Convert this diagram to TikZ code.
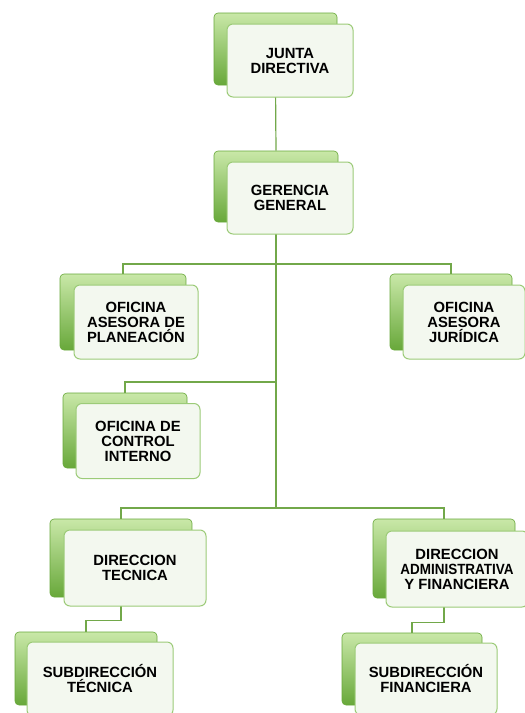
\documentclass[tikz,border=0pt]{standalone}
\usepackage{fontspec}
\setmainfont{Liberation Sans}
\usepackage{xcolor}
\definecolor{verdeclaro}{HTML}{C9E8A8}
\definecolor{verdemedio}{HTML}{8CC653}
\definecolor{verdeoscuro}{HTML}{68A83A}
\definecolor{borde}{HTML}{9CCB78}
\definecolor{linea}{HTML}{72A84A}
\definecolor{relleno}{HTML}{F3F8EF}

\begin{document}
\begin{tikzpicture}[x=1pt,y=-1pt,
	fondo/.style={rounded corners=4pt, draw=verdeoscuro, line width=0.6pt, top color=verdeclaro, middle color=verdemedio, bottom color=verdeoscuro, inner sep=0pt},
	caja/.style={rounded corners=6pt, draw=borde, line width=1pt, fill=relleno, align=center, inner sep=0pt, font=\bfseries\fontsize{14.8}{15}\selectfont},
	conector/.style={draw=linea, line width=1.2pt}]
	\useasboundingbox[fill=white] (0,0) rectangle (525,713);
	\node[fondo, minimum width=123, minimum height=72] (jb) at (275.5,49) {};
	\node[fondo, minimum width=124, minimum height=71] (gb) at (276,186.5) {};
	\node[fondo, minimum width=126, minimum height=76] (oapb) at (123,312) {};
	\node[fondo, minimum width=122, minimum height=76] (ojb) at (451,312) {};
	\node[fondo, minimum width=124, minimum height=75] (ocib) at (125,430.5) {};
	\node[fondo, minimum width=142, minimum height=78] (dtb) at (121,558) {};
	\node[fondo, minimum width=142, minimum height=79] (dab) at (444,558.5) {};
	\node[fondo, minimum width=142, minimum height=73] (stb) at (86,668.5) {};
	\node[fondo, minimum width=140, minimum height=72] (sfb) at (412,669) {};
	\coordinate (bus1) at (276,264);
	\coordinate (bus2) at (276,382);
	\coordinate (bus3) at (276,508);
	\draw[conector] (jb.south) -- (gb.north);
	\draw[conector] (gb.south) -- (bus3);
	\draw[conector] (oapb.north) |- (bus1) -| (ojb.north);
	\draw[conector] (ocib.north) |- (bus2);
	\draw[conector] (dtb.north) |- (bus3) -| (dab.north);
	\draw[conector] (dtb.south) -- ++(0,23) -| (stb.north);
	\draw[conector] (dab.south) -- ++(0,24) -| (sfb.north);
	\node[caja, minimum width=126, minimum height=73] (junta) at (290,60.5) {JUNTA\\DIRECTIVA};
	\node[caja, minimum width=126, minimum height=72] (gerencia) at (290,198) {GERENCIA\\GENERAL};
	\node[caja, minimum width=124, minimum height=74] (planeacion) at (136,322) {OFICINA\\ASESORA DE\\PLANEACIÓN};
	\node[caja, minimum width=122, minimum height=74] (juridica) at (464,322) {OFICINA\\ASESORA\\JURÍDICA};
	\node[caja, minimum width=124, minimum height=75] (control) at (138,441) {OFICINA DE\\CONTROL\\INTERNO};
	\node[caja, minimum width=142, minimum height=76] (tecnica) at (135,568) {DIRECCION\\TECNICA};
	\node[caja, minimum width=142, minimum height=76] (administrativa) at (457,569) {DIRECCION\\\scalebox{0.91}[1]{ADMINISTRATIVA}\\Y FINANCIERA};
	\node[caja, minimum width=146, minimum height=74] (subtecnica) at (100,679) {SUBDIRECCIÓN\\TÉCNICA};
	\node[caja, minimum width=142, minimum height=72] (subfinanciera) at (426,679) {SUBDIRECCIÓN\\FINANCIERA};
\end{tikzpicture}
\end{document}
